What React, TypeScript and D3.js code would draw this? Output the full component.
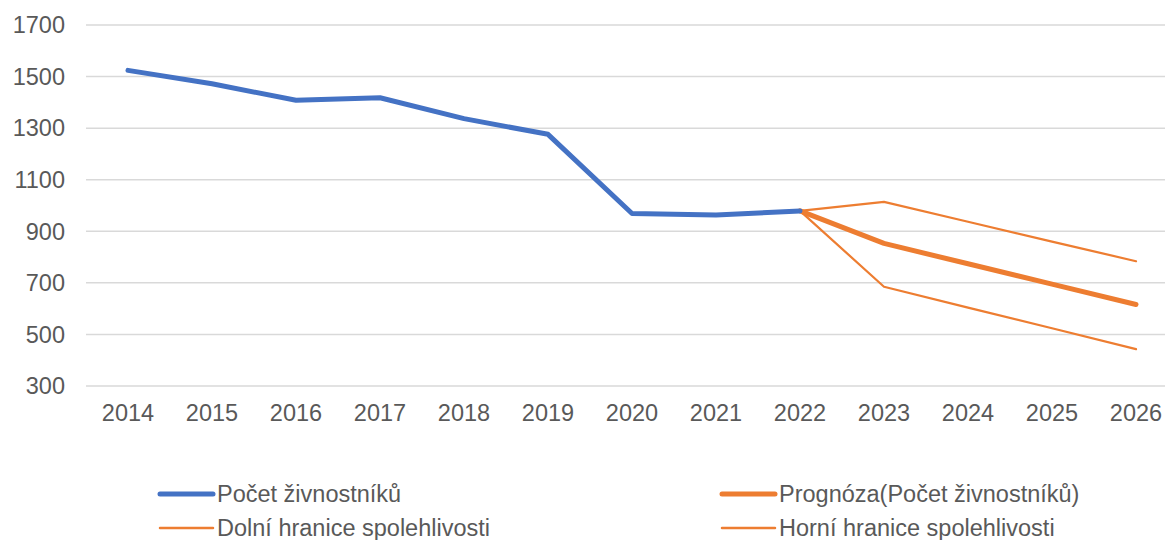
import React from 'react';
import * as d3 from 'd3';

const years = ['2014', '2015', '2016', '2017', '2018', '2019', '2020', '2021', '2022', '2023', '2024', '2025', '2026'];
const yTicks = [300, 500, 700, 900, 1100, 1300, 1500, 1700];

// Počet živnostníků (2014–2022)
const actual = [1524, 1472, 1408, 1418, 1337, 1276, 969, 963, 979];
// prognóza a hranice (2022–2026)
const forecastYears = ['2022', '2023', '2024', '2025', '2026'];
const forecast = [979, 853, 774, 695, 616];
const lower = [979, 685, 604, 524, 443];
const upper = [979, 1014, 937, 860, 784];

const BLUE = '#4472C4';
const ORANGE = '#ED7D31';
const TEXT = '#595959';
const FONT = '"Liberation Sans", Arial, sans-serif';

const App = () => {
    const width = 1165;
    const height = 540;
    const margin = { top: 25, right: -13, bottom: 154, left: 86 };

    const x = d3.scalePoint<string>()
        .domain(years)
        .range([margin.left, width - margin.right])
        .padding(0.5);

    const y = d3.scaleLinear()
        .domain([300, 1700])
        .range([height - margin.bottom, margin.top]);

    const line = d3.line<[string, number]>()
        .x(d => x(d[0]) as number)
        .y(d => y(d[1]));

    const actualPts = actual.map((v, i) => [years[i], v] as [string, number]);
    const pts = (arr: number[]) => arr.map((v, i) => [forecastYears[i], v] as [string, number]);

    const legend = [
        { label: 'Počet živnostníků', color: BLUE, w: 5, x: 158, y: 494 },
        { label: 'Prognóza(Počet živnostníků)', color: ORANGE, w: 5, x: 720, y: 494 },
        { label: 'Dolní hranice spolehlivosti', color: ORANGE, w: 2.5, x: 158, y: 528 },
        { label: 'Horní hranice spolehlivosti', color: ORANGE, w: 2.5, x: 720, y: 528 },
    ];

    return (
        <svg width={width} height={height}
            style={{ position: 'absolute', left: 0, top: 0, background: '#fff' }}
            fontFamily={FONT}>
            {/* grid + y labels */}
            {yTicks.map(t => (
                <g key={t}>
                    <line x1={margin.left} x2={width} y1={y(t)} y2={y(t)} stroke="#d9d9d9" strokeWidth={1.5} />
                    <text x={65} y={y(t)} dy="0.35em" textAnchor="end" fontSize={23.5} fill={TEXT}>{t}</text>
                </g>
            ))}
            {/* x labels */}
            {years.map(yr => (
                <text key={yr} x={x(yr)} y={y(300) + 27} dy="0.35em" textAnchor="middle" fontSize={23.5} fill={TEXT}>{yr}</text>
            ))}

            <path d={line(pts(upper)) ?? ''} fill="none" stroke={ORANGE} strokeWidth={2.2} strokeLinejoin="round" strokeLinecap="round" />
            <path d={line(pts(lower)) ?? ''} fill="none" stroke={ORANGE} strokeWidth={2.2} strokeLinejoin="round" strokeLinecap="round" />
            <path d={line(pts(forecast)) ?? ''} fill="none" stroke={ORANGE} strokeWidth={5} strokeLinejoin="round" strokeLinecap="round" />
            <path d={line(actualPts) ?? ''} fill="none" stroke={BLUE} strokeWidth={5} strokeLinejoin="round" strokeLinecap="round" />

            {legend.map(l => (
                <g key={l.label}>
                    <line x1={l.x + 2} x2={l.x + 55} y1={l.y} y2={l.y} stroke={l.color} strokeWidth={l.w} strokeLinecap="round" />
                    <text x={l.x + 59} y={l.y} dy="0.35em" fontSize={23.5} fill={TEXT}>{l.label}</text>
                </g>
            ))}
        </svg>
    );
};

export default App;
